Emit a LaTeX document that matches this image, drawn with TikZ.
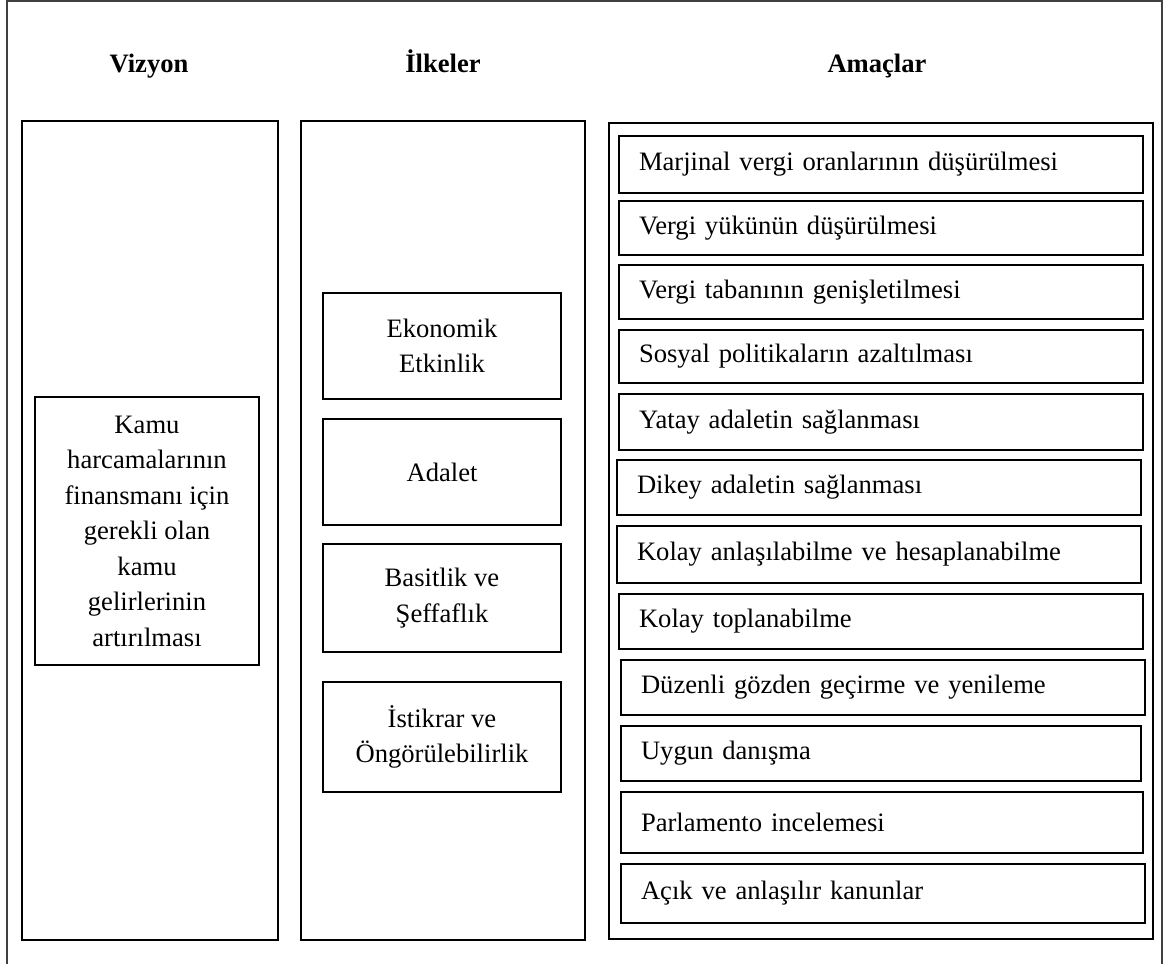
\documentclass[tikz,border=0pt]{standalone}
\usepackage{fontspec}
\setmainfont{Liberation Serif}
\usepackage{tikz}
\usetikzlibrary{positioning}

\begin{document}
\begin{tikzpicture}[
  x=0.5pt, y=-0.5pt,
  every node/.style={font=\fontsize{13.3}{17.75}\selectfont},
  baslik/.style={font=\fontsize{13.3}{17.75}\selectfont\bfseries, anchor=base},
  kolon/.style={draw, line width=0.6pt, inner sep=0pt},
  ilke/.style={draw, line width=0.6pt, minimum width=119pt, align=center, inner sep=2pt},
  amac/.style={draw, line width=0.6pt, text width=242pt, inner xsep=10pt, inner ysep=0pt, minimum height=27.5pt, align=left}
]
  \useasboundingbox (0,0) rectangle (1163,964);
  % outer frame
  \draw[line width=0.6pt, black!75] (7,964) -- (7,1) -- (1162,1) -- (1162,964);

  % headings
  \node[baslik] (tvizyon) at (149, 72) {Vizyon};
  \node[baslik] (tilkeler) at (443, 72) {İlkeler};
  \node[baslik] (tamaclar) at (877, 72) {Amaçlar};

  % column frames
  \node[kolon, minimum width=128pt, minimum height=409.5pt] (vizyon) at (150, 530.5) {};
  \node[kolon, minimum width=142pt, minimum height=409.5pt] (ilkeler) at (443, 530.5) {};
  \node[kolon, minimum width=272pt, minimum height=408pt] (amaclar) at (881, 531) {};

  % Vizyon
  \node[draw, line width=0.6pt, minimum width=112pt, minimum height=134pt, align=center, inner sep=2pt] (kamu) at (147, 531)
    {Kamu\\harcamalarının\\finansmanı için\\gerekli olan\\kamu\\gelirlerinin\\artırılması};

  % Ilkeler
  \node[ilke, minimum height=53pt] (ekonomik) at (442, 346) {Ekonomik\\Etkinlik};
  \node[ilke, minimum height=53pt] (adalet) at (442, 472) {Adalet};
  \node[ilke, minimum height=54pt] (basitlik) at (442, 598) {Basitlik ve\\Şeffaflık};
  \node[ilke, minimum height=55pt] (istikrar) at (442, 737) {İstikrar ve\\Öngörülebilirlik};

  % Amaclar
  \node[amac, minimum height=28.5pt] (a1) at (881, 164.5) {Marjinal vergi oranlarının düşürülmesi};
  \node[amac, minimum height=27pt] (a2) at (881, 228) {Vergi yükünün düşürülmesi};
  \node[amac, minimum height=27pt] (a3) at (881, 292) {Vergi tabanının genişletilmesi};
  \node[amac, minimum height=26.5pt] (a4) at (881, 356.5) {Sosyal politikaların azaltılması};
  \node[amac, minimum height=28pt] (a5) at (881, 422) {Yatay adaletin sağlanması};
  \node[amac] (a6) at (879, 487.5) {Dikey adaletin sağlanması};
  \node[amac, minimum height=28.5pt] (a7) at (879, 554.5) {Kolay anlaşılabilme ve hesaplanabilme};
  \node[amac] (a8) at (881, 621.5) {Kolay toplanabilme};
  \node[amac] (a9) at (883, 687.5) {Düzenli gözden geçirme ve yenileme};
  \node[amac, text width=240pt] (a10) at (881, 753.5) {Uygun danışma};
  \node[amac, text width=241pt, minimum height=30.5pt] (a11) at (882, 822.5) {Parlamento incelemesi};
  \node[amac, minimum height=29.5pt] (a12) at (883, 893.5) {Açık ve anlaşılır kanunlar};
\end{tikzpicture}
\end{document}
